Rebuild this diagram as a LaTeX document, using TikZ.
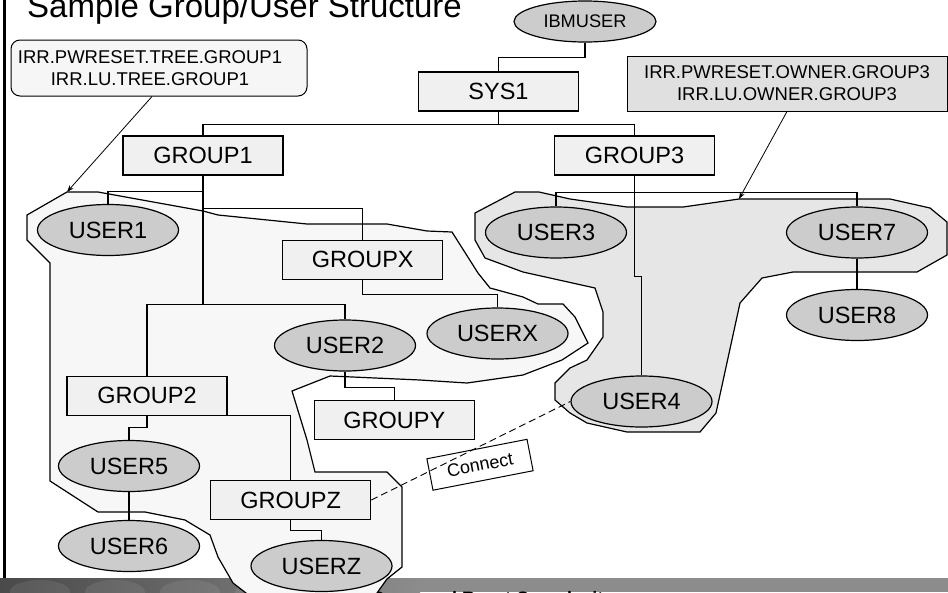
\documentclass[tikz,border=0pt]{standalone}
\usepackage{fontspec}
\setmainfont{Liberation Sans}
\usetikzlibrary{shapes.geometric,arrows.meta,calc}
\definecolor{boxfill}{HTML}{F0F0F0}
\definecolor{userfill}{HTML}{CCCCCC}
\definecolor{treefill}{HTML}{F7F7F7}
\definecolor{ownerfill}{HTML}{E6E6E6}
\definecolor{notefill}{HTML}{E0E0E0}
\definecolor{notelight}{HTML}{F6F6F6}
\definecolor{footgray}{HTML}{8C8C8C}
\definecolor{footdark}{HTML}{4A4A4A}
\begin{document}
\begin{tikzpicture}[x=1pt,y=-1pt,
  grp/.style={draw, line width=1.2pt, fill=boxfill, minimum width=160pt, minimum height=39pt, inner sep=0pt, font=\fontsize{23.5}{26}\selectfont},
  usr/.style={ellipse, draw, line width=1.2pt, fill=userfill, minimum width=141pt, minimum height=51pt, inner sep=0pt, font=\fontsize{23.5}{26}\selectfont},
  link/.style={line width=1.2pt},
  region/.style={draw, line width=1.2pt},
  note/.style={font=\fontsize{18.5}{22}\selectfont, align=center, inner sep=0pt},
  pointer/.style={line width=0.8pt, -{Stealth[length=7pt,width=5pt]}}
]
\useasboundingbox (0,0) rectangle (948,592);

% footer band of the slide
\fill[footgray] (0,578) rectangle (948,592);
\shade[left color=footdark, right color=footgray] (0,578) rectangle (420,592);
\foreach \cx in {40,115,190,265}
  \fill[white, opacity=0.08] (\cx,592) ellipse (30pt and 12pt);
\node[anchor=base west, inner sep=0pt, font=\bfseries\fontsize{18}{20}\selectfont] (foot) at (372,604) {Password Reset Complexity};

% scope of GROUP1 (tree)
\path[region, fill=treefill] (67,192) -- (98,192) -- (203,211) -- (218,215) -- (307,224) -- (387,224)
  -- (427,231) -- (452,232) -- (478,273) -- (490,288) -- (523,297) -- (538,304) -- (563,304)
  -- (575,317) -- (588,343) -- (562,360) -- (523,375) -- (467,383) -- (420,380) -- (330,376)
  -- (292,391) -- (307,440) -- (315,472) -- (387,472) -- (402,487) -- (402,567) -- (387,579)
  -- (372,600) -- (255,600) -- (233,583) -- (218,557) -- (210,535) -- (185,520) -- (145,512)
  -- (98,512) -- (50,481) -- (50,263) -- (27,240) -- (27,215) -- cycle;

% scope of GROUP3 (owner)
\path[region, fill=ownerfill] (475,213) -- (515,192) -- (539,192) -- (570,199) -- (627,207) -- (683,207)
  -- (739,199) -- (890,199) -- (930,208) -- (947,222) -- (947,255) -- (917,272) -- (793,272)
  -- (762,278) -- (740,303) -- (716,413) -- (700,432) -- (627,432) -- (587,423) -- (570,413)
  -- (555,400) -- (555,383) -- (570,368) -- (587,360) -- (603,337) -- (603,312) -- (595,288)
  -- (523,272) -- (485,258) -- (475,240) -- cycle;

\coordinate (apexA) at (67,192);
\coordinate (apexB) at (739,199);

% groups and users
\node[usr, minimum width=142pt, minimum height=41pt, font=\fontsize{18.2}{20}\selectfont] (ibm) at (585,21.5) {IBMUSER};
\node[grp] (sys) at (498.5,91.5) {SYS1};
\node[grp] (g1) at (203,155.5) {GROUP1};
\node[grp] (g3) at (634.5,155.5) {GROUP3};
\node[usr] (u1) at (108,230) {USER1};
\node[usr] (u3) at (556,232.5) {USER3};
\node[usr] (u7) at (857,232.5) {USER7};
\node[usr] (u8) at (857,315) {USER8};
\node[grp] (gx) at (362.7,259.7) {GROUPX};
\node[usr] (ux) at (497.5,333.5) {USERX};
\node[usr] (u2) at (345,345.5) {USER2};
\node[grp] (gy) at (394.3,420) {GROUPY};
\node[grp] (g2) at (147,395.7) {GROUP2};
\node[usr] (u4) at (641.5,401.5) {USER4};
\node[usr] (u5) at (129,466) {USER5};
\node[grp] (gz) at (290.7,500) {GROUPZ};
\node[usr] (u6) at (129,546) {USER6};
\node[usr] (uz) at (321.5,566) {USERZ};

% tree connectors
\draw[link] (ibm.south) -- ++(0,15) -| (sys.north);
\draw[link] (sys.south) -- ++(0,13) coordinate (sysj);
\draw[link] (g1.north) |- (sysj) -| (g3.north);
\draw[link] (g1.south) -- ++(0,129) coordinate (g1j);
\draw[link] ($(g1.south)+(0,16)$) -| (u1.north);
\draw[link] ($(g1.south)+(0,32.5)$) -| (gx.north);
\draw[link] (g2.north) |- (g1j) -| (u2.north);
\draw[link] (gx.south) -- ++(0,14.5) -| (ux.north);
\draw[link] (u2.south) -- ++(0,15.5) -| (gy.north);
\draw[link] (g2.south) -- ++(0,11.5) -| (u5.north);
\draw[link] (g2.south) -| (gz.north);
\draw[link] (u5.south) -- (u6.north);
\draw[link] (gz.south) -- ++(0,10) -| (uz.north);
\draw[link] (g3.south) -- ++(0,101) -| (u4.north);
\draw[link] (u3.north) |- ($(g3.south)+(0,16.5)$) -| (u7.north);
\draw[link] (u7.south) -- (u8.north);

% connect relation
\node[draw, line width=1pt, fill=white, rotate=11, minimum width=102pt, minimum height=32pt, inner sep=0pt,
  font=\fontsize{18}{20}\selectfont] (conn) at (480,464.75) {Connect};
\draw[line width=0.9pt, dash pattern=on 7pt off 4pt] (gz.east) -- (u4.west);

% profile annotations
\node[draw, line width=1pt, rounded corners=9pt, fill=notelight, minimum width=296pt, minimum height=56pt, inner sep=0pt] (ann1) at (159,68) {};
\node[note] (ann1txt) at (150,68) {IRR.PWRESET.TREE.GROUP1\\IRR.LU.TREE.GROUP1};
\node[draw, line width=1pt, fill=notefill, minimum width=320pt, minimum height=55pt, note] (ann2) at (787,83.5) {IRR.PWRESET.OWNER.GROUP3\\IRR.LU.OWNER.GROUP3};
\draw[pointer] (ann1.south -| 152,0) -- (apexA);
\draw[pointer] (ann2.south) -- (apexB);

% title and slide edge
\node[anchor=base west, inner sep=0pt, font=\fontsize{33}{36}\selectfont] (title) at (27,17) {Sample Group/User Structure};
\draw[line width=2.5pt] (4.5,0) -- (4.5,578);
\end{tikzpicture}
\end{document}
